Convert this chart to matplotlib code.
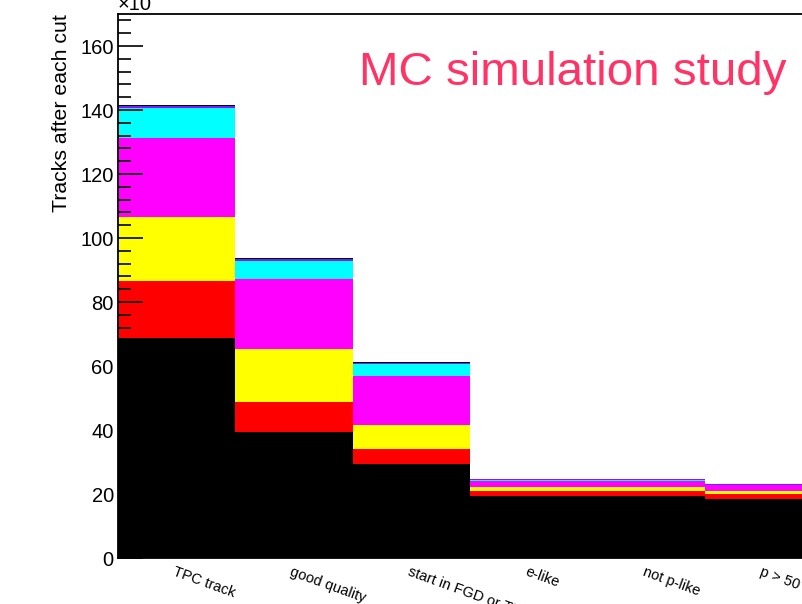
import matplotlib
matplotlib.use("Agg")
import matplotlib.pyplot as plt
import numpy as np
from matplotlib.ticker import MultipleLocator

plt.rcParams['font.family'] = ['Liberation Sans', 'DejaVu Sans']

# Data (in units of 10^3 tracks), bottom to top of stack
cuts = ["TPC track", "good quality", "start in FGD or TPC", "e-like", "not p-like", "p > 50 MeV/c"]
comp_black  = [68.7, 39.4, 29.5, 19.5, 19.5, 18.5]
comp_red    = [18.0,  9.35, 4.5,  1.4,  1.4,  1.4]
comp_yellow = [19.9, 16.65, 7.7,  1.3,  1.3,  0.9]
comp_magenta= [24.7, 21.7, 15.2,  1.8,  1.8,  2.0]
comp_cyan   = [ 9.4,  5.8,  3.7,  0.5,  0.5,  0.0]
comp_blue   = [ 0.5,  0.6,  0.3,  0.1,  0.1,  0.4]
comp_other  = [ 0.4,  0.4,  0.2,  0.0,  0.0,  0.0]

components = [comp_black, comp_red, comp_yellow, comp_magenta, comp_cyan, comp_blue, comp_other]
colors = ["#000000", "#ff0000", "#ffff00", "#ff00ff", "#00ffff", "#7a1cff", "#000000"]

W, H = 803, 604
fig = plt.figure(figsize=(W/100, H/100), dpi=100)
ax = fig.add_axes([118/W, 1-558/H, 705/W, (558-14)/H])

x = np.arange(len(cuts))
bottom = np.zeros(len(cuts))
for vals, c in zip(components, colors):
    v = np.array(vals)
    ax.bar(x + 0.5, v, width=1.0, bottom=bottom, color=c, edgecolor='none', linewidth=0)
    bottom += v

ax.set_xlim(0, len(cuts))
ax.set_ylim(0, 170)

ax.yaxis.set_major_locator(MultipleLocator(20))
ax.yaxis.set_minor_locator(MultipleLocator(4))
ax.tick_params(axis='y', which='major', direction='in', length=18, width=1.2, labelsize=14.5, pad=3)
ax.tick_params(axis='y', which='minor', direction='in', length=9.5, width=1.2)
ax.tick_params(axis='x', which='both', length=0, labelbottom=False)
for s in ax.spines.values():
    s.set_linewidth(1.3)

for i, lab in enumerate(cuts):
    ax.annotate(lab, xy=(i + 0.5, 0), xycoords='data', xytext=(-1, -5), textcoords='offset points',
                rotation=-20, rotation_mode='anchor', ha='left', va='top', fontsize=10.5,
                annotation_clip=False)

fig.text(62/W, 1-14/H, "Tracks after each cut", rotation=90, ha='center', va='top', fontsize=15.3)
fig.text(118/W, 1-10/H, "×10", ha='left', va='baseline', fontsize=14.5)
fig.text(359/W, 1-85/H, "MC simulation study", ha='left', va='baseline', fontsize=34.2, color="#ff3366")

fig.savefig("out.png", dpi=100)
